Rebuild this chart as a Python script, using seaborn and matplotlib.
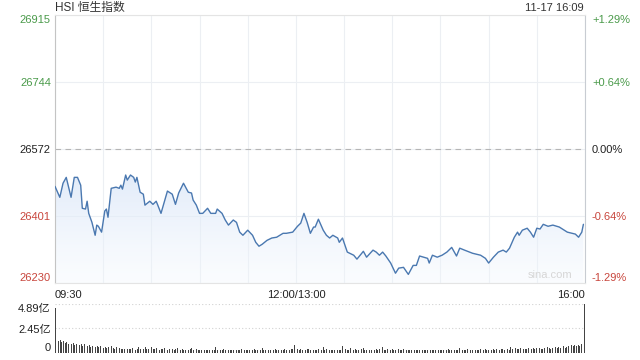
import numpy as np
import pandas as pd
import matplotlib
matplotlib.use("Agg")
import matplotlib.pyplot as plt
from matplotlib.colors import LinearSegmentedColormap
import seaborn as sns

sns.set_style("white")
plt.rcParams["font.family"] = ["Liberation Sans", "Noto Sans CJK SC", "DejaVu Sans"]

title = "HSI 恒生指数"
stamp = "11-17 16:09"
prev_close = 26572
price_ticks = [26230, 26401, 26572, 26744, 26915]
pct_labels = ["-1.29%", "-0.64%", "0.00%", "+0.64%", "+1.29%"]
time_ticks = [0, 150, 330]
time_labels = ["09:30", "12:00/13:00", "16:00"]
vol_ticks = [0, 2.45, 4.89]
vol_labels = ["0", "2.45亿", "4.89亿"]

# trading minutes since 09:30 (lunch break removed)
minutes = [0, 3, 5, 7, 10, 12, 14, 16, 17, 19, 20, 21, 23, 25, 26, 27, 29, 31, 32, 33,
           35, 38, 40, 41, 42, 44, 45, 47, 49, 50, 51, 53, 55, 56, 59, 61, 63, 64, 66, 68,
           70, 73, 75, 77, 80, 83, 85, 86, 88, 90, 92, 95, 97, 100, 101, 104, 106, 108, 111, 113,
           115, 117, 120, 123, 125, 127, 129, 132, 135, 138, 142, 144, 148, 151, 153, 155, 157, 159, 161, 162,
           164, 167, 169, 171, 173, 176, 177, 179, 182, 186, 188, 192, 194, 198, 200, 202, 204, 206, 209, 212,
           214, 217, 220, 223, 225, 227, 232, 233, 235, 238, 241, 244, 247, 250, 252, 255, 260, 265, 268, 270,
           273, 276, 279, 281, 283, 286, 288, 289, 291, 294, 296, 298, 300, 302, 304, 307, 310, 314, 319, 322,
           324, 326, 328, 329]
prices = [26477, 26449, 26485, 26500, 26449, 26500, 26500, 26480, 26421, 26419, 26439, 26408, 26385, 26352, 26378, 26375, 26360, 26414, 26419, 26398,
          26472, 26475, 26472, 26480, 26470, 26506, 26493, 26506, 26500, 26488, 26500, 26462, 26457, 26429, 26439, 26431, 26439, 26429, 26408, 26437,
          26465, 26457, 26431, 26460, 26485, 26462, 26460, 26442, 26429, 26408, 26408, 26421, 26408, 26408, 26419, 26408, 26391, 26378, 26391, 26385,
          26360, 26352, 26365, 26352, 26334, 26324, 26329, 26339, 26345, 26347, 26357, 26357, 26360, 26375, 26383, 26408, 26385, 26357, 26373, 26373,
          26393, 26365, 26352, 26345, 26352, 26345, 26334, 26345, 26309, 26301, 26291, 26311, 26296, 26314, 26309, 26301, 26309, 26299, 26281, 26255,
          26268, 26270, 26252, 26275, 26275, 26299, 26293, 26281, 26301, 26296, 26301, 26309, 26321, 26299, 26319, 26314, 26306, 26301, 26293, 26281,
          26296, 26309, 26314, 26309, 26319, 26347, 26360, 26352, 26365, 26370, 26360, 26347, 26370, 26368, 26380, 26375, 26378, 26373, 26360, 26357,
          26355, 26347, 26360, 26380]

# per-minute turnover, 亿
volume = [4.45, 1.25, 1.15, 1.30, 1.10, 1.20, 1.00, 1.12, 0.92, 1.05,
          0.85, 1.00, 0.78, 0.90, 1.05, 0.75, 0.85, 0.68, 0.90, 0.76,
          0.66, 0.76, 0.62, 0.70, 0.82, 0.60, 0.68, 0.56, 0.74, 0.60,
          0.52, 0.64, 0.50, 0.58, 0.46, 0.68, 0.48, 0.44, 0.55, 0.42,
          0.48, 0.38, 0.44, 0.40, 0.56, 0.37, 0.42, 0.35, 0.46, 0.40,
          0.34, 0.44, 0.60, 0.38, 0.50, 0.36, 0.64, 0.42, 0.37, 0.48,
          0.58, 0.40, 0.35, 0.46, 0.38, 0.32, 0.42, 0.36, 0.50, 0.34,
          0.30, 0.37, 0.32, 0.42, 0.29, 0.35, 0.46, 0.32, 0.28, 0.38,
          0.34, 0.29, 0.40, 0.30, 0.36, 0.52, 0.32, 0.27, 0.37, 0.30,
          0.28, 0.34, 0.38, 0.29, 0.32, 0.26, 0.30, 0.36, 0.28, 0.32,
          0.56, 0.30, 0.27, 0.34, 0.29, 0.44, 0.32, 0.26, 0.30, 0.28,
          0.34, 0.29, 0.24, 0.32, 0.27, 0.30, 0.38, 0.28, 0.26, 0.32,
          0.29, 0.34, 0.27, 0.30, 0.40, 0.28, 0.26, 0.32, 0.29, 0.50,
          0.30, 0.27, 0.36, 0.29, 0.32, 0.26, 0.30, 0.44, 0.28, 0.34,
          0.29, 0.32, 0.27, 0.38, 0.30, 0.34, 0.29, 0.42, 0.36, 0.84,
          0.48, 0.38, 0.34, 0.44, 0.32, 0.37, 0.30, 0.42, 0.35, 0.32,
          0.38, 0.29, 0.34, 0.30, 0.36, 0.28, 0.32, 0.56, 0.30, 0.35,
          0.29, 0.32, 0.27, 0.34, 0.30, 0.37, 0.28, 0.32, 0.29, 0.68,
          0.38, 0.44, 0.34, 0.30, 0.48, 0.35, 0.32, 0.42, 0.29, 0.34,
          0.30, 0.36, 0.52, 0.32, 0.29, 0.38, 0.34, 0.30, 0.44, 0.32,
          0.35, 0.29, 0.40, 0.34, 0.58, 0.32, 0.30, 0.37, 0.29, 0.34,
          0.44, 0.32, 0.30, 0.64, 0.35, 0.32, 0.29, 0.38, 0.34, 0.30,
          0.28, 0.32, 0.26, 0.30, 0.29, 0.34, 0.27, 0.30, 0.26, 0.29,
          0.32, 0.27, 0.30, 0.26, 0.29, 0.34, 0.28, 0.26, 0.30, 0.27,
          0.29, 0.26, 0.32, 0.28, 0.30, 0.44, 0.29, 0.32, 0.27, 0.30,
          0.34, 0.29, 0.48, 0.30, 0.27, 0.32, 0.29, 0.36, 0.30, 0.28,
          0.32, 0.29, 0.34, 0.30, 0.27, 0.38, 0.32, 0.29, 0.35, 0.30,
          0.34, 0.40, 0.30, 0.36, 0.32, 0.44, 0.34, 0.30, 0.38, 0.35,
          0.32, 0.37, 0.42, 0.34, 0.60, 0.38, 0.35, 0.46, 0.37, 0.40,
          0.50, 0.38, 0.44, 0.40, 0.37, 0.48, 0.42, 0.38, 0.45, 0.40,
          0.46, 0.42, 0.52, 0.44, 0.40, 0.50, 0.45, 0.56, 0.46, 0.43,
          0.53, 0.48, 0.60, 0.46, 0.64, 0.51, 0.58, 0.68, 0.54, 0.62,
          0.72, 0.60, 0.76, 0.66, 0.80, 0.70, 0.84, 0.74, 0.88, 0.96, 4.89]

df = pd.DataFrame({"minute": minutes, "price": prices})
vol_minutes = list(range(len(volume)))

GREEN = "#4a9a4a"
RED = "#c8453c"
DARK = "#222222"
LINE = "#4a78b0"
GRID = "#eceff3"

fig = plt.figure(figsize=(6.4, 3.6), dpi=100)
ax = fig.add_axes([55 / 640, 1 - 283 / 360, 530 / 640, 268 / 360])

# gradient fill under the line
poly = ax.fill_between(df["minute"], df["price"], price_ticks[0], color="none", lw=0)
cmap = LinearSegmentedColormap.from_list(
    "fill", [(0.95, 0.97, 0.995, 0.35), (0.85, 0.90, 0.97, 0.75)])
grad = np.linspace(0, 1, 256).reshape(-1, 1)
im = ax.imshow(grad, aspect="auto", cmap=cmap, origin="lower",
               extent=[0, 330, price_ticks[0], max(prices)], zorder=1)
im.set_clip_path(poly.get_paths()[0], transform=ax.transData)

sns.lineplot(data=df, x="minute", y="price", ax=ax, color=LINE, lw=1.0, zorder=3)

ax.set_xlim(0, 330)
ax.set_ylim(price_ticks[0], price_ticks[-1])
ax.set_xticks(range(0, 331, 30), minor=True)
ax.set_xticks(time_ticks)
ax.set_xticklabels(time_labels, fontsize=8, color=DARK)
xl = ax.get_xticklabels()
xl[0].set_ha("left")
xl[-1].set_ha("right")
ax.tick_params(axis="x", which="both", length=0, pad=5)
ax.set_yticks(price_ticks)
ax.set_yticklabels([str(p) for p in price_ticks], fontsize=8)
ax.tick_params(axis="y", length=0, pad=3)
for lab, p in zip(ax.get_yticklabels(), price_ticks):
    lab.set_color(GREEN if p > prev_close else (RED if p < prev_close else DARK))
ax.get_yticklabels()[0].set_va("bottom")
ax.get_yticklabels()[-1].set_va("top")
ax.grid(True, axis="x", which="both", color=GRID, lw=0.8, zorder=0)
ax.grid(True, axis="y", color=GRID, lw=0.8, zorder=0)
ax.set_axisbelow(True)
ax.axhline(prev_close, color="#b5b5b5", lw=0.8, ls=(0, (5, 4)), zorder=2)
ax.set_xlabel("")
ax.set_ylabel("")
for side, c in [("left", "#c4c4c4"), ("right", "#c8ccd2"), ("top", "#e4e4e4"), ("bottom", "#e4e4e4")]:
    ax.spines[side].set_color(c)
    ax.spines[side].set_linewidth(0.8)

ax2 = ax.twinx()
ax2.set_ylim(ax.get_ylim())
ax2.set_yticks(price_ticks)
ax2.set_yticklabels(pct_labels, fontsize=8)
ax2.tick_params(axis="y", length=0, pad=5)
for lab, p in zip(ax2.get_yticklabels(), price_ticks):
    lab.set_color(GREEN if p > prev_close else (RED if p < prev_close else DARK))
ax2.get_yticklabels()[0].set_va("bottom")
ax2.get_yticklabels()[-1].set_va("top")
for s in ax2.spines.values():
    s.set_visible(False)

ax.text(0.977, 0.012, "sina.com", transform=ax.transAxes, ha="right", va="bottom",
        fontsize=8, color="#d6d6d6")

fig.text(55 / 640, 1 - 8 / 360, title, ha="left", va="center", fontsize=8.5, color="#333333")
fig.text(584 / 640, 1 - 8 / 360, stamp, ha="right", va="center", fontsize=8, color="#333333")

# volume panel
axv = fig.add_axes([55 / 640, 1 - 353 / 360, 530 / 640, 49 / 360])
axv.bar(vol_minutes, volume, width=0.5, color="#444444", lw=0)
axv.set_xlim(-0.3, 330.3)
axv.set_ylim(0, vol_ticks[-1])
axv.set_xticks([])
axv.set_yticks(vol_ticks)
axv.set_yticklabels(vol_labels, fontsize=8, color=DARK)
axv.tick_params(axis="y", length=0, pad=3)
axv.get_yticklabels()[0].set_va("bottom")
axv.get_yticklabels()[-1].set_va("top")
for v in vol_ticks[1:]:
    axv.axhline(v, color="#d2d2d2", lw=0.8, ls=(0, (1, 2)), zorder=0)
for s in axv.spines.values():
    s.set_visible(False)

fig.savefig("out.png", dpi=100)
